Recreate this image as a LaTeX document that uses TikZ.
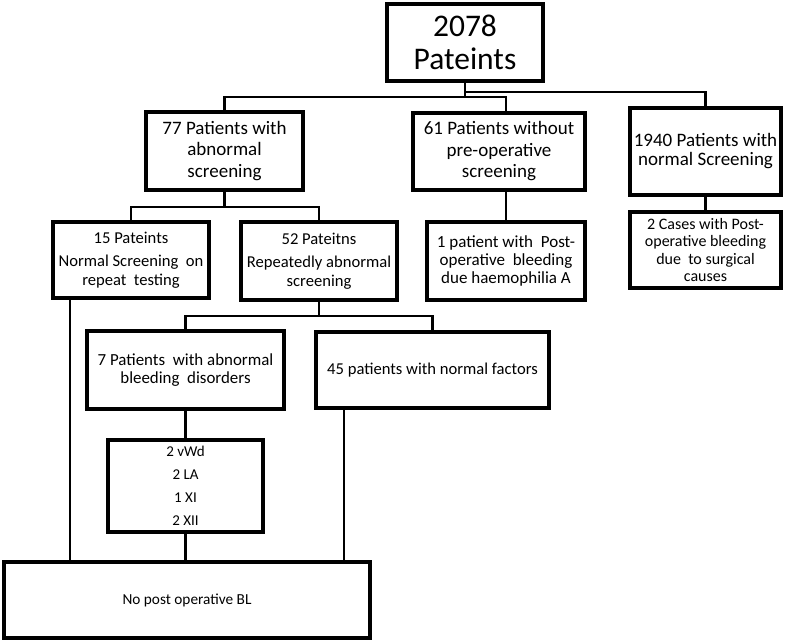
\documentclass[tikz,border=0pt]{standalone}
\usepackage{fontspec}
\setmainfont{Carlito}
\begin{document}
\begin{tikzpicture}[x=1pt,y=-1pt,
  box/.style={draw,line width=3.5pt,inner sep=0pt,align=center,fill=white},
  link/.style={line width=2.7pt},
  big/.style={font=\fontsize{31.5}{32.5}\selectfont},
  mid/.style={font=\fontsize{19}{21.5}\selectfont},
  sml/.style={font=\fontsize{16.6}{18.5}\selectfont}]
\useasboundingbox (0,0) rectangle (790,644);
% nodes
\node[box,big,minimum width=156,minimum height=77] (top) at (465,42.5) {2078\\Pateints};
\node[box,mid,minimum width=157,minimum height=78] (n77) at (224.5,151) {77 Patients with\\abnormal\\screening};
\node[box,mid,minimum width=172,minimum height=77] (n61) at (499,151.5) {61 Patients without\\pre-operative\\screening};
\node[box,font=\fontsize{19}{19}\selectfont,minimum width=151,minimum height=87] (n1940) at (705.5,151.5) {1940 Patients with\\normal Screening};
\node[box,font=\fontsize{16}{17.5}\selectfont,minimum width=151,minimum height=76] (n2c) at (705.5,250) {2 Cases with Post-\\operative bleeding\\due~ to surgical\\causes};
\node[box,font=\fontsize{17}{18}\selectfont,minimum width=158,minimum height=78] (n1p) at (506,261) {1 patient with~ Post-\\operative~ bleeding\\due haemophilia A};
\node[box,sml,minimum width=156,minimum height=76] (n15) at (131,260) {15 Pateints\\[5pt]Normal Screening~ on\\repeat~ testing};
\node[box,sml,minimum width=156,minimum height=78] (n52) at (319,261) {52 Pateitns\\[5pt]Repeatedly abnormal\\screening};
\node[box,font=\fontsize{16.9}{18}\selectfont,minimum width=197,minimum height=78] (n7) at (185.5,370) {7 Patients~ with abnormal\\bleeding~ disorders};
\node[box,sml,minimum width=233,minimum height=76] (n45) at (432.5,370) {45 patients with normal factors};
\node[box,font=\fontsize{15}{23}\selectfont,minimum width=155,minimum height=92] (nv) at (185.5,486) {2 vWd\\2 LA\\1 XI\\2 XII};
\node[box,font=\fontsize{15.3}{18}\selectfont,minimum width=366,minimum height=76] (nb) at (187,600) {No post operative BL};
% connectors
\draw[link] (top.south) -- (top.south |- 0,97);
\draw[link] (n77.north) -- (n77.north |- 0,97) -- (n1p.north |- 0,97) -- (n1p.north |- n61.north);
\draw[link] (top.south |- 0,92) -| (n1940.north);
\draw[link] (n1940.south) -- (n2c.north);
\draw[link] (n1p.north |- n61.south) -- (n1p.north);
\draw[link] (n77.south) -- (n77.south |- 0,207);
\draw[link] (n15.north) -- (n15.north |- 0,207) -| (n52.north);
\draw[link] (n52.south) -- (n52.south |- 0,316);
\draw[link] (n7.north) -- (n7.north |- 0,316) -| (n45.north);
\draw[link] (n7.south) -- (nv.north);
\draw[link] (nv.south) -- (nv.south |- nb.north);
\draw[link] (n15.south -| 70,0) -- (nb.north -| 70,0);
\draw[link] (n45.south -| 344,0) -- (nb.north -| 344,0);
\end{tikzpicture}
\end{document}
